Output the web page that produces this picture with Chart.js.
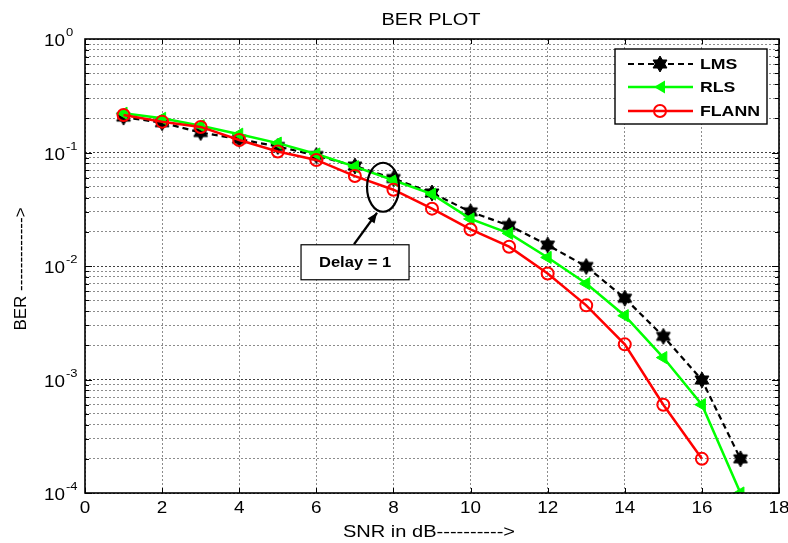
<!DOCTYPE html>
<html>
<head>
<meta charset="utf-8">
<title>BER PLOT</title>
<script src="https://cdn.jsdelivr.net/npm/chart.js@4/dist/chart.umd.min.js"></script>
<style>
  html, body { margin: 0; padding: 0; background: #ffffff; }
  #wrap { width: 788px; height: 543px; position: relative; }
</style>
</head>
<body>
<div id="wrap"><canvas id="ber" width="788" height="543"></canvas></div>
<script>
// SNR values (dB)
const snrLMS   = [1, 2, 3, 4, 5, 6, 7, 8, 9, 10, 11, 12, 13, 14, 15, 16, 17];
const snrRLS   = [1, 2, 3, 4, 5, 6, 7, 8, 9, 10, 11, 12, 13, 14, 15, 16, 17];
const snrFLANN = [1, 2, 3, 4, 5, 6, 7, 8, 9, 10, 11, 12, 13, 14, 15, 16];

// Bit error rate for each equaliser
const berLMS   = [0.205, 0.183, 0.150, 0.131, 0.113, 0.094, 0.076, 0.059, 0.044, 0.030, 0.0227, 0.0153, 0.0099, 0.0052, 0.0024, 0.00099, 0.0002];
const berRLS   = [0.222, 0.200, 0.172, 0.145, 0.121, 0.097, 0.075, 0.057, 0.043, 0.026, 0.0194, 0.0119, 0.0070, 0.00365, 0.00156, 0.0006, 0.0001];
const berFLANN = [0.214, 0.187, 0.168, 0.129, 0.102, 0.086, 0.062, 0.047, 0.032, 0.021, 0.0148, 0.0086, 0.0045, 0.00204, 0.0006, 0.0002];

// Axis ticks
const xTicks = [0, 2, 4, 6, 8, 10, 12, 14, 16, 18];
const yDecades = [0, -1, -2, -3, -4];

const seriesNames = ['LMS', 'RLS', 'FLANN'];
const chartTitle = 'BER PLOT';
const xTitle = 'SNR in dB---------->';
const yTitle = 'BER ------------->';
const noteText = 'Delay = 1';

const FONT = 'Arial, "Liberation Sans", sans-serif';
// text is drawn slightly wide, as in the exported figure
const TEXT_SX = 1.18;

function pairs(xs, ys) { return xs.map((x, i) => ({ x: x, y: ys[i] })); }

function wideText(ctx, str, x, y, font, align, baseline) {
  ctx.save();
  ctx.font = font;
  ctx.textAlign = align || 'left';
  ctx.textBaseline = baseline || 'middle';
  ctx.translate(x, y);
  ctx.scale(TEXT_SX, 1);
  ctx.fillText(str, 0, 0);
  const w = ctx.measureText(str).width * TEXT_SX;
  ctx.restore();
  return w;
}

// Six-pointed star marker
function hexagramPath(ctx, cx, cy, r) {
  ctx.beginPath();
  for (let t = 0; t < 2; t++) {
    const off = t === 0 ? -Math.PI / 2 : Math.PI / 2;
    for (let k = 0; k < 3; k++) {
      const a = off + k * 2 * Math.PI / 3;
      const px = cx + r * Math.cos(a), py = cy + r * Math.sin(a);
      if (k === 0) ctx.moveTo(px, py); else ctx.lineTo(px, py);
    }
    ctx.closePath();
  }
}
function makeStar() {
  const c = document.createElement('canvas');
  c.width = 18; c.height = 18;
  const g = c.getContext('2d');
  hexagramPath(g, 9, 9, 8);
  g.fillStyle = '#000';
  g.fill('nonzero');
  g.lineWidth = 1;
  g.strokeStyle = '#000';
  g.stroke();
  return c;
}
const starImg = makeStar();

// Frame, ticks, tick labels, titles, legend and the delay note
const decorPlugin = {
  id: 'decor',
  afterDraw(chart) {
    const ctx = chart.ctx;
    const a = chart.chartArea;
    const xs = chart.scales.x, ys = chart.scales.y;
    ctx.save();

    // inward tick marks
    ctx.strokeStyle = '#000';
    ctx.lineWidth = 1;
    ctx.beginPath();
    xTicks.forEach(v => {
      const px = Math.round(xs.getPixelForValue(v)) + 0.5;
      ctx.moveTo(px, a.bottom); ctx.lineTo(px, a.bottom - 5);
      ctx.moveTo(px, a.top); ctx.lineTo(px, a.top + 5);
    });
    for (let d = -4; d < 0; d++) {
      for (let m = 1; m <= 9; m++) {
        const v = m * Math.pow(10, d);
        const py = Math.round(ys.getPixelForValue(v)) + 0.5;
        const len = m === 1 ? 7 : 4;
        ctx.moveTo(a.left, py); ctx.lineTo(a.left + len, py);
        ctx.moveTo(a.right, py); ctx.lineTo(a.right - len, py);
      }
    }
    ctx.stroke();

    // frame
    ctx.lineWidth = 1.6;
    ctx.strokeRect(a.left, a.top, a.right - a.left, a.bottom - a.top);

    // x tick labels
    ctx.fillStyle = '#000';
    xTicks.forEach(v => {
      wideText(ctx, String(v), xs.getPixelForValue(v), a.bottom + 16, '16px ' + FONT, 'center');
    });

    // y tick labels: 10 with superscript exponent
    yDecades.forEach(e => {
      const py = ys.getPixelForValue(Math.pow(10, e));
      wideText(ctx, '10', a.left - 20, py + 3, '16px ' + FONT, 'right');
      wideText(ctx, String(e), a.left - 19, py - 6, '11px ' + FONT, 'left');
    });

    // title and axis titles
    wideText(ctx, chartTitle, 431, 20, '17px ' + FONT, 'center');
    wideText(ctx, xTitle, 429, 532, '17px ' + FONT, 'center');
    ctx.save();
    ctx.translate(21, 269);
    ctx.rotate(-Math.PI / 2);
    ctx.font = '17px ' + FONT;
    ctx.textAlign = 'center';
    ctx.textBaseline = 'middle';
    ctx.fillText(yTitle, 0, 0);
    ctx.restore();

    // legend
    const lx = 615, ly = 49, lw = 152, lh = 75;
    ctx.fillStyle = '#fff';
    ctx.fillRect(lx, ly, lw, lh);
    ctx.strokeStyle = '#000';
    ctx.lineWidth = 1.4;
    ctx.strokeRect(lx, ly, lw, lh);
    const rows = [ly + 15, ly + 38, ly + 62];
    const ds = chart.data.datasets;
    seriesNames.forEach((name, i) => {
      const d = ds[i];
      const y = rows[i];
      ctx.save();
      ctx.strokeStyle = d.borderColor;
      ctx.lineWidth = d.borderWidth;
      ctx.setLineDash(d.borderDash || []);
      ctx.beginPath();
      ctx.moveTo(628, y); ctx.lineTo(693, y);
      ctx.stroke();
      ctx.setLineDash([]);
      if (i === 0) {
        ctx.drawImage(starImg, 660 - 9, y - 9);
      } else if (i === 1) {
        ctx.fillStyle = d.pointBackgroundColor;
        ctx.beginPath();
        ctx.moveTo(654, y);
        ctx.lineTo(665, y - 6.5);
        ctx.lineTo(665, y + 6.5);
        ctx.closePath();
        ctx.fill();
      } else {
        ctx.lineWidth = 2;
        ctx.strokeStyle = d.pointBorderColor;
        ctx.beginPath();
        ctx.arc(660, y, 6, 0, Math.PI * 2);
        ctx.stroke();
      }
      ctx.restore();
      ctx.fillStyle = '#000';
      wideText(ctx, name, 700, y + 1, 'bold 15px ' + FONT, 'left');
    });

    // delay note: ellipse around the curves near 8 dB, arrow and label box
    const ex = xs.getPixelForValue(7.73), ey = ys.getPixelForValue(0.0494);
    ctx.strokeStyle = '#000';
    ctx.lineWidth = 2.2;
    ctx.beginPath();
    ctx.ellipse(ex, ey, 16, 24.5, 0, 0, Math.PI * 2);
    ctx.stroke();
    // arrow
    const ax0 = ex - 29, ay0 = ey + 57, ax1 = ex - 6, ay1 = ey + 25.5;
    ctx.lineWidth = 2.2;
    ctx.beginPath();
    ctx.moveTo(ax0, ay0); ctx.lineTo(ax1, ay1);
    ctx.stroke();
    const ang = Math.atan2(ay1 - ay0, ax1 - ax0);
    ctx.fillStyle = '#000';
    ctx.beginPath();
    ctx.moveTo(ax1, ay1);
    ctx.lineTo(ax1 - 11 * Math.cos(ang - 0.4), ay1 - 11 * Math.sin(ang - 0.4));
    ctx.lineTo(ax1 - 11 * Math.cos(ang + 0.4), ay1 - 11 * Math.sin(ang + 0.4));
    ctx.closePath();
    ctx.fill();
    // box
    const bx = ex - 82, by = ey + 57.5, bw = 108, bh = 35;
    ctx.fillStyle = '#fff';
    ctx.fillRect(bx, by, bw, bh);
    ctx.strokeStyle = '#000';
    ctx.lineWidth = 1.2;
    ctx.strokeRect(bx, by, bw, bh);
    ctx.fillStyle = '#000';
    wideText(ctx, noteText, bx + bw / 2, by + bh / 2 + 1, 'bold 14px ' + FONT, 'center');

    ctx.restore();
  }
};

const ctx = document.getElementById('ber').getContext('2d');
new Chart(ctx, {
  type: 'line',
  data: {
    datasets: [
      {
        label: seriesNames[0],
        data: pairs(snrLMS, berLMS),
        borderColor: '#000000',
        borderWidth: 2.2,
        borderDash: [6, 4],
        pointStyle: starImg,
        pointBackgroundColor: '#000000',
        pointBorderColor: '#000000',
        fill: false,
        tension: 0,
        order: 3
      },
      {
        label: seriesNames[1],
        data: pairs(snrRLS, berRLS),
        borderColor: '#00ff00',
        borderWidth: 2.5,
        pointStyle: 'triangle',
        pointRotation: -90,
        pointRadius: 7,
        pointBackgroundColor: '#00ff00',
        pointBorderColor: '#00ff00',
        pointBorderWidth: 1,
        fill: false,
        tension: 0,
        order: 2
      },
      {
        label: seriesNames[2],
        data: pairs(snrFLANN, berFLANN),
        borderColor: '#ff0000',
        borderWidth: 2.5,
        pointStyle: 'circle',
        pointRadius: 6,
        pointBackgroundColor: 'rgba(0,0,0,0)',
        pointBorderColor: '#ff0000',
        pointBorderWidth: 2,
        fill: false,
        tension: 0,
        order: 1
      }
    ]
  },
  options: {
    responsive: false,
    animation: false,
    devicePixelRatio: 1,
    layout: { padding: { left: 85, right: 9, top: 39, bottom: 50 } },
    plugins: {
      legend: { display: false },
      title: { display: false },
      tooltip: { enabled: false }
    },
    scales: {
      x: {
        type: 'linear',
        min: 0,
        max: 18,
        afterFit(s) { s.height = 0; },
        afterBuildTicks(s) { s.ticks = xTicks.map(v => ({ value: v })); },
        ticks: { display: false },
        grid: {
          drawTicks: false,
          color: '#8c8c8c',
          lineWidth: 1
        },
        border: { display: false, dash: [2, 2] }
      },
      y: {
        type: 'logarithmic',
        min: 1e-4,
        max: 1,
        afterFit(s) { s.width = 0; },
        afterBuildTicks(s) {
          const t = [];
          for (let d = -4; d < 0; d++) {
            for (let m = 1; m <= 9; m++) t.push({ value: m * Math.pow(10, d) });
          }
          t.push({ value: 1 });
          s.ticks = t;
        },
        ticks: { display: false },
        grid: {
          drawTicks: false,
          color(c) {
            const v = c.tick ? c.tick.value : 0;
            const e = Math.log10(v);
            return Math.abs(e - Math.round(e)) < 1e-6 ? '#404040' : '#8c8c8c';
          },
          lineWidth: 1
        },
        border: { display: false, dash: [2, 2] }
      }
    }
  },
  plugins: [decorPlugin]
});
</script>
</body>
</html>
